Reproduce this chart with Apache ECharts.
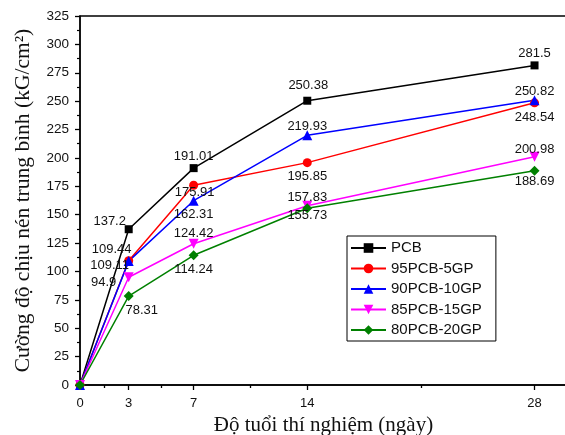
<!DOCTYPE html>
<html>
<head>
<meta charset="utf-8">
<script src="https://cdn.jsdelivr.net/npm/echarts@6/dist/echarts.min.js"></script>
<style>
html, body { margin: 0; padding: 0; background: #fff; }
#main { width: 565px; height: 435px; }
</style>
</head>
<body>
<div id="main"></div>
<script>
// tuổi mẫu (ngày)
var days = [0, 3, 7, 14, 28];
var minorDays = [1.5, 5, 10.5, 21];
var names = ['PCB', '95PCB-5GP', '90PCB-10GP', '85PCB-15GP', '80PCB-20GP'];
var pcb  = [0, 137.2, 191.01, 250.38, 281.5];
var gp5  = [0, 109.44, 175.91, 195.85, 248.54];
var gp10 = [0, 109.11, 162.31, 219.93, 250.82];
var gp15 = [0, 94.9, 124.42, 157.83, 200.98];
var gp20 = [0, 78.31, 114.24, 155.73, 188.69];

// dịch nhãn (dx, dy) so với điểm
var shifts = [
    [null, [-19, -8], [0, -12], [1, -15], [0, -12]],
    [null, [-17, -11], [1, 7], [0, 14], [0, 15]],
    [null, [-19, 4], [0, 14], [0, -9], [0, -9]],
    [null, [-25, 5], [0, -10], [0, -8], [0, -7]],
    [null, [13, 14], [0, 14], [0, 7], [0, 11]]
];

var triDown = 'path://M0,0 L10,0 L5,9 Z';

function makeSeries(i, values, color, symbol, size) {
    return {
        name: names[i],
        type: 'line',
        symbol: symbol,
        symbolSize: size,
        lineStyle: { width: 1.5, color: color },
        itemStyle: { color: color },
        emphasis: { disabled: true },
        data: days.map(function (d, k) {
            var item = { value: [d, values[k]] };
            if (shifts[i][k]) {
                item.label = {
                    show: true,
                    position: 'inside',
                    offset: shifts[i][k],
                    color: '#111',
                    fontFamily: 'Liberation Sans',
                    fontSize: 13,
                    formatter: function (p) { return p.value[1]; }
                };
            }
            return item;
        })
    };
}

var myChart = echarts.init(document.getElementById('main'));

var option = {
    animation: false,
    backgroundColor: '#fff',
    grid: {
        left: 80, top: 16, right: -2, bottom: 50,
        outerBoundsMode: 'none',
        containLabel: false,
        show: true, borderColor: '#000', borderWidth: 1.3
    },
    legend: {
        orient: 'vertical',
        left: 347, top: 236,
        data: names,
        backgroundColor: '#fff',
        borderColor: '#000',
        borderWidth: 1,
        padding: [4, 14, 3, 3],
        itemWidth: 35,
        itemHeight: 12,
        itemGap: 4.5,
        textStyle: { fontFamily: 'Liberation Sans', fontSize: 15, color: '#111', lineHeight: 16 }
    },
    xAxis: [
        {
            type: 'value',
            min: 0, max: 30,
            name: 'Độ tuổi thí nghiệm (ngày)',
            nameLocation: 'middle',
            nameGap: 17,
            nameTextStyle: { fontFamily: 'Liberation Serif', fontSize: 21, color: '#111' },
            axisLine: { lineStyle: { color: '#000', width: 1.5 } },
            axisTick: { length: 5, customValues: days, lineStyle: { color: '#000', width: 1.3 } },
            axisLabel: {
                customValues: days, margin: 12,
                fontFamily: 'Liberation Sans', fontSize: 13, color: '#111'
            },
            splitLine: { show: false }
        },
        {
            type: 'value',
            min: 0, max: 30,
            position: 'bottom',
            axisLine: { show: false },
            axisTick: { length: 3, customValues: minorDays, lineStyle: { color: '#000', width: 1.3 } },
            axisLabel: { show: false },
            splitLine: { show: false }
        }
    ],
    yAxis: {
        type: 'value',
        min: 0, max: 325, interval: 25,
        name: 'Cường độ chịu nén trung bình (kG/cm²)',
        nameLocation: 'middle',
        nameGap: 46,
        nameTextStyle: { fontFamily: 'Liberation Serif', fontSize: 21.5, color: '#111' },
        axisLine: { show: true, lineStyle: { color: '#000', width: 1.5 } },
        axisTick: { show: true, length: 5, lineStyle: { color: '#000', width: 1.3 } },
        minorTick: { show: true, splitNumber: 2, length: 3, lineStyle: { color: '#000', width: 1.2 } },
        axisLabel: { margin: 11, fontFamily: 'Liberation Sans', fontSize: 13.5, color: '#111' },
        splitLine: { show: false }
    },
    series: [
        makeSeries(0, pcb, '#000000', 'rect', 8),
        makeSeries(1, gp5, '#ff0000', 'circle', 9),
        makeSeries(2, gp10, '#0000ff', 'triangle', 10),
        makeSeries(3, gp15, '#ff00ff', triDown, 10),
        makeSeries(4, gp20, '#008000', 'diamond', 10)
    ]
};

myChart.setOption(option);
</script>
</body>
</html>
